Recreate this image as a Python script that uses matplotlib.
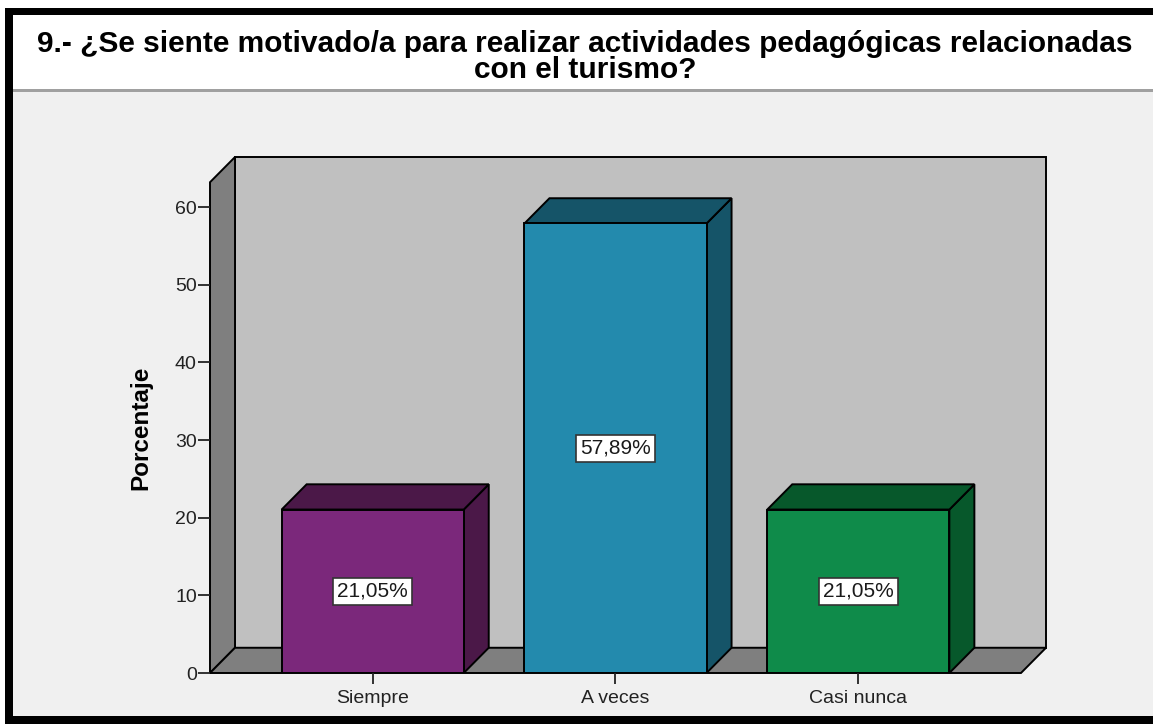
import matplotlib
matplotlib.use('Agg')
import matplotlib.pyplot as plt
from matplotlib.patches import Polygon, Rectangle

plt.rcParams['font.family'] = ['Liberation Sans', 'DejaVu Sans']

# datos del gráfico
categorias = ['Siempre', 'A veces', 'Casi nunca']
porcentajes = [21.05, 57.89, 21.05]
etiquetas = ['21,05%', '57,89%', '21,05%']
yticks = [0, 10, 20, 30, 40, 50, 60]

titulo = '9.- ¿Se siente motivado/a para realizar actividades pedagógicas relacionadas\ncon el turismo?'
ylabel = 'Porcentaje'

colores_frente = ['#7b287b', '#238aad', '#0f8b4a']
colores_lado = ['#4b1848', '#155468', '#07582b']

# estilo / geometria 3D
DX, DY = 0.103, 3.25   # profundidad del efecto 3D (unidades de datos)
X0, X1 = -0.67, 2.67   # extremos del piso frontal
YTOP = 63.2            # altura de la pared frontal
ANCHO = 0.75
LW = 1.4

W, H = 1153, 724
fig = plt.figure(figsize=(W / 100, H / 100), dpi=100)
fig.patch.set_facecolor('white')


def fx(px):
    return px / W


def fy(py):
    return 1 - py / H


def rect_px(x0, y0, x1, y1, color):
    fig.patches.append(Rectangle((fx(x0), fy(y1)), fx(x1) - fx(x0), fy(y0) - fy(y1),
                                 transform=fig.transFigure, facecolor=color,
                                 edgecolor='none', zorder=-10))


# marco y fondo del panel
rect_px(13, 92, W, 716, '#f0f0f0')
rect_px(13, 89, W, 92, '#a0a0a0')
rect_px(5, 8, 13, H, 'black')
rect_px(5, 8, W, 15, 'black')
rect_px(5, 716, W, H, 'black')

ax = fig.add_axes([fx(210), fy(673), fx(1046) - fx(210), fy(157) - fy(673)])
ax.set_zorder(5)
ax.set_xlim(X0, X1 + DX)
ax.set_ylim(0, YTOP + DY)
ax.patch.set_visible(False)
for s in ax.spines.values():
    s.set_visible(False)

# paredes y piso
ax.add_patch(Rectangle((X0 + DX, DY), X1 - X0, YTOP, facecolor='#c0c0c0',
                       edgecolor='black', lw=LW, clip_on=False))
ax.add_patch(Polygon([(X0, 0), (X0, YTOP), (X0 + DX, YTOP + DY), (X0 + DX, DY)],
                     closed=True, facecolor='#7f7f7f', edgecolor='black', lw=LW, clip_on=False))
ax.add_patch(Polygon([(X0, 0), (X1, 0), (X1 + DX, DY), (X0 + DX, DY)],
                     closed=True, facecolor='#7f7f7f', edgecolor='black', lw=LW, clip_on=False))

# barras
for i, v in enumerate(porcentajes):
    xl, xr = i - ANCHO / 2, i + ANCHO / 2
    ax.add_patch(Polygon([(xr, 0), (xr + DX, DY), (xr + DX, v + DY), (xr, v)],
                         closed=True, facecolor=colores_lado[i], edgecolor='black', lw=LW))
    ax.add_patch(Polygon([(xl, v), (xr, v), (xr + DX, v + DY), (xl + DX, v + DY)],
                         closed=True, facecolor=colores_lado[i], edgecolor='black', lw=LW))
    ax.add_patch(Rectangle((xl, 0), ANCHO, v, facecolor=colores_frente[i],
                           edgecolor='black', lw=LW))
    ax.text(i, v / 2, etiquetas[i], ha='center', va='center', fontsize=15, color='#1a1a1a',
            bbox=dict(boxstyle='square,pad=0.2', facecolor='white', edgecolor='#333333', lw=1.2),
            zorder=5)

ax.set_yticks(yticks)
ax.set_xticks(range(len(categorias)))
ax.set_xticklabels(categorias)
ax.tick_params(axis='y', direction='out', length=8.5, width=1.3, pad=1,
               labelsize=14, labelcolor='#222222', color='#222222')
ax.tick_params(axis='x', direction='out', length=8, width=1.3, pad=4,
               labelsize=14, labelcolor='#222222', color='#222222')

fig.text(fx(141), fy(428), ylabel, rotation=90, ha='center', va='center',
         fontsize=17.5, fontweight='bold', color='black')
fig.text(fx(585), fy(57), titulo, ha='center', va='center', fontsize=21.5,
         fontweight='bold', color='black', linespacing=0.9)

fig.savefig('out.png', dpi=100)
